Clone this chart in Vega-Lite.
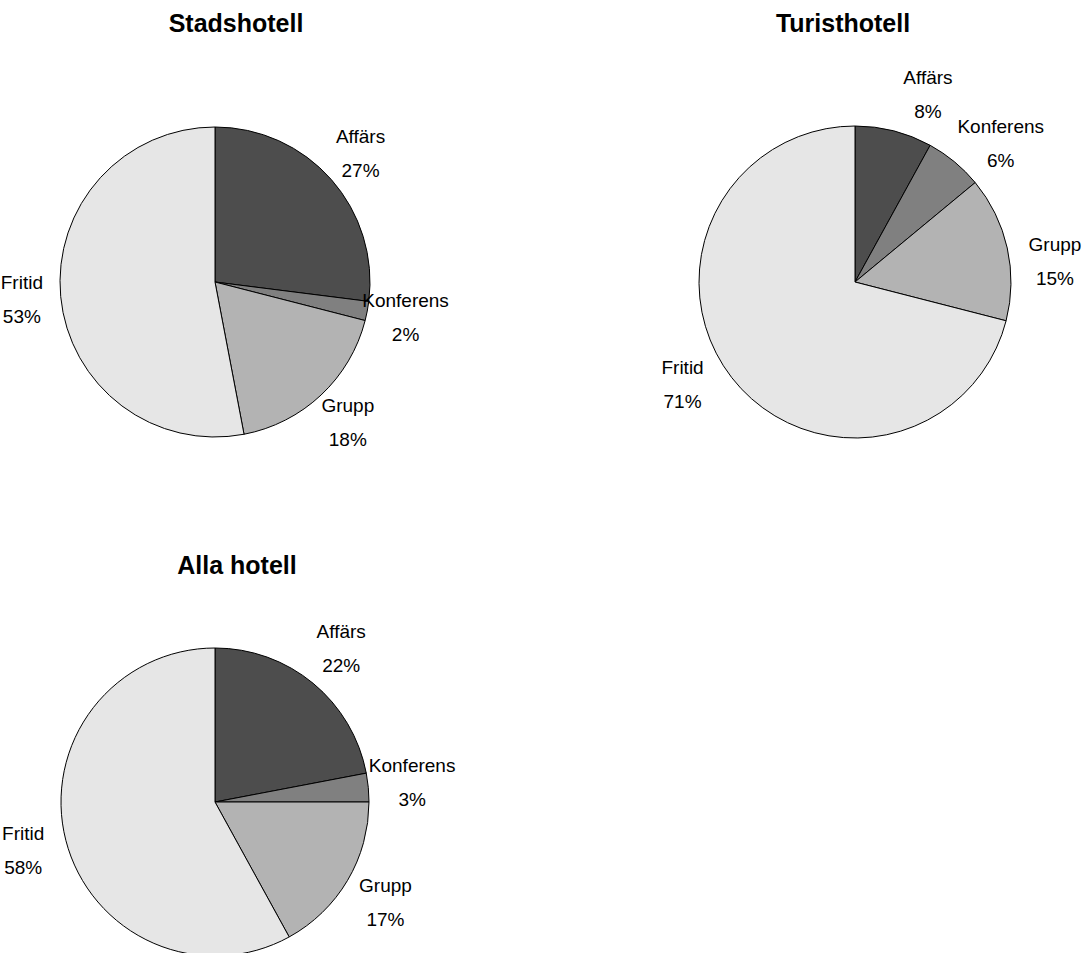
{
  "$schema": "https://vega.github.io/schema/vega-lite/v6.json",
  "background": "white",
  "padding": {"left": 0, "top": 12, "right": 0, "bottom": 0},
  "config": {
    "view": {"stroke": null},
    "font": "Liberation Sans",
    "title": {"font": "Liberation Sans", "fontSize": 25, "fontWeight": "bold", "color": "#000000", "baseline": "bottom", "anchor": "middle"},
    "text": {"font": "Liberation Sans", "fontSize": 19, "color": "#000000"},
    "arc": {"stroke": "#000000", "strokeWidth": 1}
  },
  "datasets": {
    "d": [
      {"hotell": "Stadshotell", "kategori": "Affärs", "andel": 0.27, "k": 1},
      {"hotell": "Stadshotell", "kategori": "Konferens", "andel": 0.02, "k": 2},
      {"hotell": "Stadshotell", "kategori": "Grupp", "andel": 0.18, "k": 3},
      {"hotell": "Stadshotell", "kategori": "Fritid", "andel": 0.53, "k": 4},
      {"hotell": "Turisthotell", "kategori": "Affärs", "andel": 0.08, "k": 1},
      {"hotell": "Turisthotell", "kategori": "Konferens", "andel": 0.06, "k": 2},
      {"hotell": "Turisthotell", "kategori": "Grupp", "andel": 0.15, "k": 3},
      {"hotell": "Turisthotell", "kategori": "Fritid", "andel": 0.71, "k": 4},
      {"hotell": "Alla hotell", "kategori": "Affärs", "andel": 0.22, "k": 1},
      {"hotell": "Alla hotell", "kategori": "Konferens", "andel": 0.03, "k": 2},
      {"hotell": "Alla hotell", "kategori": "Grupp", "andel": 0.17, "k": 3},
      {"hotell": "Alla hotell", "kategori": "Fritid", "andel": 0.58, "k": 4}
    ]
  },
  "spacing": 50,
  "vconcat": [
    {
      "bounds": "flush",
      "spacing": 212,
      "hconcat": [
        {
          "width": 428,
          "height": 444,
          "title": {"text": "Stadshotell", "offset": 23, "dx": 21},
          "data": {"name": "d"},
          "transform": [{"filter": "datum.hotell === 'Stadshotell'"}],
          "encoding": {
            "theta": {"field": "andel", "type": "quantitative", "stack": true},
            "order": {"field": "k", "type": "quantitative"}
          },
          "layer": [
            {
              "mark": {"type": "arc", "radius": 155},
              "encoding": {
                "color": {"field": "kategori", "type": "nominal", "legend": null,
                  "scale": {"domain": ["Affärs", "Konferens", "Grupp", "Fritid"], "range": ["#4d4d4d", "#808080", "#b3b3b3", "#e6e6e6"]}}
              }
            },
            {"mark": {"type": "text", "radius": 194, "dy": -17}, "encoding": {"text": {"field": "kategori", "type": "nominal"}}},
            {"mark": {"type": "text", "radius": 194, "dy": 17}, "encoding": {"text": {"field": "andel", "type": "quantitative", "format": ".0%"}}}
          ]
        },
        {
          "width": 428,
          "height": 444,
          "title": {"text": "Turisthotell", "offset": 23, "dx": -12},
          "data": {"name": "d"},
          "transform": [{"filter": "datum.hotell === 'Turisthotell'"}],
          "encoding": {
            "theta": {"field": "andel", "type": "quantitative", "stack": true},
            "order": {"field": "k", "type": "quantitative"}
          },
          "layer": [
            {
              "mark": {"type": "arc", "radius": 156},
              "encoding": {
                "color": {"field": "kategori", "type": "nominal", "legend": null,
                  "scale": {"domain": ["Affärs", "Konferens", "Grupp", "Fritid"], "range": ["#4d4d4d", "#808080", "#b3b3b3", "#e6e6e6"]}}
              }
            },
            {"mark": {"type": "text", "radius": 201, "thetaOffset": 0.12, "dy": -17}, "encoding": {"text": {"field": "kategori", "type": "nominal"}}},
            {"mark": {"type": "text", "radius": 201, "thetaOffset": 0.12, "dy": 17}, "encoding": {"text": {"field": "andel", "type": "quantitative", "format": ".0%"}}}
          ]
        }
      ]
    },
    {
      "width": 428,
      "height": 426,
      "title": {"text": "Alla hotell", "offset": 10, "dx": 22},
      "data": {"name": "d"},
      "transform": [{"filter": "datum.hotell === 'Alla hotell'"}],
      "encoding": {
        "theta": {"field": "andel", "type": "quantitative", "stack": true},
        "order": {"field": "k", "type": "quantitative"}
      },
      "layer": [
        {
          "mark": {"type": "arc", "radius": 154},
          "encoding": {
            "color": {"field": "kategori", "type": "nominal", "legend": null,
              "scale": {"domain": ["Affärs", "Konferens", "Grupp", "Fritid"], "range": ["#4d4d4d", "#808080", "#b3b3b3", "#e6e6e6"]}}
          }
        },
        {"mark": {"type": "text", "radius": 198, "dy": -17}, "encoding": {"text": {"field": "kategori", "type": "nominal"}}},
        {"mark": {"type": "text", "radius": 198, "dy": 17}, "encoding": {"text": {"field": "andel", "type": "quantitative", "format": ".0%"}}}
      ]
    }
  ]
}
